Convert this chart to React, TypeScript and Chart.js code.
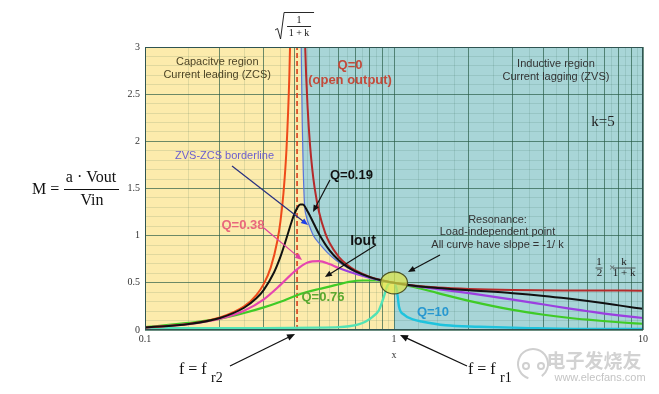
import React, { useEffect, useRef } from 'react';
import { Chart, registerables } from 'chart.js';

Chart.register(...registerables);

// ---------- axis ticks ----------
const xMajorTicks = [0.1, 0.2, 0.3, 0.4, 0.5, 0.6, 0.7, 0.8, 0.9, 1, 2, 3, 4, 5, 6, 7, 8, 9, 10];
const xMinorTicks = [0.15, 0.25, 0.35, 0.45, 0.55, 0.65, 0.75, 0.85, 0.95, 1.25, 1.5, 1.75, 2.5, 3.5, 4.5, 5.5, 6.5, 7.5, 8.5, 9.5];
const xLabelValues = [0.1, 1, 10];
const xLabelTexts = ['0.1', '1', '10'];
const yLabelValues = [0, 0.5, 1, 1.5, 2, 2.5, 3];
const yLabelTexts = ['0', '0.5', '1', '1.5', '2', '2.5', '3'];

// ---------- regions ----------
const bgX = [0.1, 10];
const bgY = [3, 3];
const borderX = [0.424, 0.428, 0.432, 0.437, 0.445, 0.458, 0.475, 0.5, 0.54, 0.585, 0.65, 0.72, 0.8, 0.9, 1];
const borderM = [3, 2.2, 1.7, 1.34, 1.2, 1.1, 1.0, 0.92, 0.82, 0.74, 0.66, 0.6, 0.555, 0.515, 0.5];
const zoneX = [...borderX, 1, 10];
const zoneM = [...borderM, 0, 0];
const fr2 = 0.408; // sqrt(1/(1+k))
const fr2X = [fr2, fr2];
const fr2Y = [0, 3];

// ---------- gain curves ----------
const q0LeftX = [0.1, 0.15, 0.2, 0.25, 0.28, 0.3, 0.32, 0.34, 0.35, 0.36, 0.37, 0.38, 0.385, 0.39];
const q0LeftM = [0.027, 0.065, 0.132, 0.25, 0.37, 0.489, 0.664, 0.943, 1.155, 1.458, 1.916, 2.7, 3.34, 4.35];
const q0RightX = [0.43, 0.44, 0.45, 0.46, 0.47, 0.48, 0.5, 0.53, 0.55, 0.6, 0.65, 0.7, 0.8, 0.9, 1, 1.2, 1.5, 2, 3, 5, 10];
const q0RightM = [4.23, 2.99, 2.355, 1.96, 1.697, 1.506, 1.25, 1.025, 0.928, 0.776, 0.688, 0.631, 0.563, 0.525, 0.5, 0.471, 0.45, 0.435, 0.4245, 0.4195, 0.4174];

const q019X = [0.1, 0.15, 0.2, 0.25, 0.28, 0.3, 0.33, 0.35, 0.37, 0.39, 0.4, 0.41, 0.42, 0.43, 0.45, 0.48, 0.5, 0.55, 0.6, 0.65, 0.7, 0.8, 0.9, 1, 1.2, 1.5, 2, 3, 4, 5, 6, 7, 8, 10];
const q019M = [0.027, 0.064, 0.128, 0.236, 0.336, 0.426, 0.612, 0.777, 0.972, 1.166, 1.243, 1.3, 1.33, 1.33, 1.256, 1.11, 1.018, 0.847, 0.74, 0.67, 0.622, 0.561, 0.524, 0.5, 0.47, 0.446, 0.422, 0.39, 0.361, 0.333, 0.307, 0.283, 0.261, 0.224];

const q038X = [0.1, 0.15, 0.2, 0.25, 0.3, 0.35, 0.4, 0.45, 0.5, 0.55, 0.6, 0.7, 0.8, 0.9, 1, 1.2, 1.5, 2, 3, 4, 5, 6, 7, 8, 10];
const q038M = [0.026, 0.062, 0.119, 0.204, 0.325, 0.478, 0.625, 0.715, 0.73, 0.7, 0.657, 0.596, 0.553, 0.523, 0.5, 0.467, 0.433, 0.39, 0.322, 0.27, 0.229, 0.199, 0.174, 0.155, 0.127];

const q076X = [0.1, 0.15, 0.2, 0.25, 0.3, 0.35, 0.4, 0.45, 0.5, 0.55, 0.6, 0.66, 0.75, 0.85, 0.95, 1, 1.2, 1.5, 2, 3, 4, 5, 6, 7, 8, 10];
const q076M = [0.03, 0.075, 0.12, 0.18, 0.24, 0.3, 0.36, 0.405, 0.435, 0.46, 0.485, 0.51, 0.525, 0.525, 0.51, 0.5, 0.456, 0.391, 0.309, 0.213, 0.162, 0.13, 0.109, 0.094, 0.082, 0.066];

const q10X = [0.1, 0.3, 0.5, 0.6, 0.66, 0.72, 0.77, 0.82, 0.87, 0.91, 0.94, 0.97, 1, 1.027, 1.047, 1.1, 1.2, 1.29, 1.61, 2.2, 3.5, 6, 10];
const q10M = [0.02, 0.02, 0.025, 0.03, 0.04, 0.06, 0.09, 0.14, 0.21, 0.35, 0.47, 0.5, 0.5, 0.42, 0.25, 0.16, 0.11, 0.09, 0.05, 0.035, 0.02, 0.01, 0.01];

// ---------- styles ----------
const YELLOW = '#fcebac';
const BLUE = '#a8d5d7';
const SANS = '"Liberation Sans", Arial, sans-serif';
const SERIF = '"Liberation Serif", "Times New Roman", serif';

const pts = (xs: number[], ys: number[]) => xs.map((x, i) => ({ x, y: ys[i] }));
const near = (a: number, b: number) => Math.abs(a - b) < 1e-9;

function drawText(ctx: CanvasRenderingContext2D, s: string, x: number, y: number, font: string, color: string, align: CanvasTextAlign = 'center') {
  ctx.font = font;
  ctx.fillStyle = color;
  ctx.textAlign = align;
  ctx.textBaseline = 'middle';
  ctx.fillText(s, x, y);
}

function drawArrow(ctx: CanvasRenderingContext2D, x1: number, y1: number, x2: number, y2: number, lineColor: string, headColor: string, w = 1.2, head = 7) {
  const ang = Math.atan2(y2 - y1, x2 - x1);
  const c = Math.cos(ang), s = Math.sin(ang);
  ctx.strokeStyle = lineColor;
  ctx.lineWidth = w;
  ctx.beginPath();
  ctx.moveTo(x1, y1);
  ctx.lineTo(x2 - c * head * 0.7, y2 - s * head * 0.7);
  ctx.stroke();
  ctx.fillStyle = headColor;
  ctx.beginPath();
  ctx.moveTo(x2, y2);
  ctx.lineTo(x2 - head * c + head * 0.42 * s, y2 - head * s - head * 0.42 * c);
  ctx.lineTo(x2 - head * c - head * 0.42 * s, y2 - head * s + head * 0.42 * c);
  ctx.closePath();
  ctx.fill();
}

const annotations = {
  id: 'annotations',
  afterDraw(chart: any) {
    const { ctx, chartArea: a } = chart;
    const xs = chart.scales.x, ys = chart.scales.y;
    const X = (v: number) => xs.getPixelForValue(v);
    const Y = (v: number) => ys.getPixelForValue(v);
    ctx.save();

    // plot frame
    ctx.strokeStyle = '#2f5452';
    ctx.lineWidth = 1;
    ctx.strokeRect(a.left + 0.5, a.top + 0.5, a.right - a.left - 1, a.bottom - a.top - 1);

    // resonance point ellipse
    ctx.beginPath();
    ctx.ellipse(X(1), Y(0.5), 13.5, 11, 0, 0, Math.PI * 2);
    ctx.fillStyle = 'rgba(222, 228, 72, 0.72)';
    ctx.fill();
    ctx.strokeStyle = '#4a5226';
    ctx.lineWidth = 1.2;
    ctx.stroke();

    // region texts
    const f11 = `11px ${SANS}`;
    drawText(ctx, 'Capacitve region', X(0.195), Y(2.84), f11, '#4d4526');
    drawText(ctx, 'Current leading (ZCS)', X(0.195), Y(2.70), f11, '#4d4526');
    drawText(ctx, 'Inductive region', X(4.47), Y(2.82), f11, '#333333');
    drawText(ctx, 'Current lagging (ZVS)', X(4.47), Y(2.68), f11, '#333333');
    drawText(ctx, 'Q=0', X(0.666), Y(2.81), `bold 13px ${SANS}`, '#c34a3a');
    drawText(ctx, '(open output)', X(0.666), Y(2.65), `bold 13px ${SANS}`, '#c34a3a');
    drawText(ctx, 'k=5', X(6.91), Y(2.205), `15px ${SERIF}`, '#222222');

    // borderline label + arrow
    drawText(ctx, 'ZVS-ZCS borderline', X(0.2086), Y(1.845), f11, '#6b5fcf');
    drawArrow(ctx, X(0.2236), Y(1.739), X(0.4515), Y(1.113), '#283080', '#2040e8');

    // Q labels
    drawText(ctx, 'Q=0.19', X(0.553), Y(1.643), `bold 13px ${SANS}`, '#111111', 'left');
    drawArrow(ctx, X(0.553), Y(1.59), X(0.4728), Y(1.251), '#111111', '#111111');
    drawText(ctx, 'Q=0.38', X(0.2474), Y(1.113), `bold 13px ${SANS}`, '#e8687c');
    drawArrow(ctx, X(0.3005), Y(1.081), X(0.4271), Y(0.742), '#e040a0', '#e040a0');
    drawText(ctx, 'Iout', X(0.7507), Y(0.9435), `bold 14px ${SANS}`, '#111111');
    drawArrow(ctx, X(0.8467), Y(0.901), X(0.528), Y(0.562), '#111111', '#111111');
    drawText(ctx, 'Q=0.76', X(0.5187), Y(0.35), `bold 13px ${SANS}`, '#5aa830');
    drawText(ctx, 'Q=10', X(1.434), Y(0.191), `bold 13px ${SANS}`, '#2898d0');

    // resonance note
    drawText(ctx, 'Resonance:', X(2.604), Y(1.166), f11, '#333333');
    drawText(ctx, 'Load-independent point', X(2.604), Y(1.034), f11, '#333333');
    drawText(ctx, 'All curve have slope = -1/ k', X(2.604), Y(0.901), f11, '#333333');
    drawArrow(ctx, X(1.53), Y(0.795), X(1.138), Y(0.615), '#111111', '#111111');

    // 1/2 x k/(1+k)
    const fx = X(7.51), fy = Y(0.657);
    const f10 = `11px ${SERIF}`;
    drawText(ctx, '1', fx - 13, fy - 6, f10, '#222');
    drawText(ctx, '2', fx - 12.5, fy + 5.5, f10, '#222');
    drawText(ctx, '\u00d7', fx, fy, f10, '#555');
    drawText(ctx, 'k', fx + 12, fy - 6, f10, '#222');
    drawText(ctx, '1 + k', fx + 12, fy + 5.5, f10, '#222');
    ctx.strokeStyle = '#333';
    ctx.lineWidth = 0.8;
    ctx.beginPath();
    ctx.moveTo(fx - 16.5, fy); ctx.lineTo(fx - 9.5, fy);
    ctx.moveTo(fx + 1, fy); ctx.lineTo(fx + 23.5, fy);
    ctx.stroke();

    // sqrt(1/(1+k)) above chart
    const sx = X(fr2) + 2;
    drawText(ctx, '1', sx, 20.5, `10px ${SERIF}`, '#111');
    drawText(ctx, '1 + k', sx, 33, `10px ${SERIF}`, '#111');
    ctx.strokeStyle = '#111';
    ctx.lineWidth = 0.9;
    ctx.beginPath();
    ctx.moveTo(sx - 12, 26.5); ctx.lineTo(sx + 12, 26.5);
    ctx.stroke();
    ctx.beginPath();
    ctx.moveTo(sx - 24, 30); ctx.lineTo(sx - 21.5, 28.5); ctx.lineTo(sx - 18.5, 39); ctx.lineTo(sx - 15, 12.5); ctx.lineTo(sx + 15, 12.5);
    ctx.stroke();

    // M = a·Vout / Vin
    drawText(ctx, 'M =', 32, 190, `16px ${SERIF}`, '#111', 'left');
    drawText(ctx, 'a \u00b7 Vout', 91, 178, `16px ${SERIF}`, '#111');
    drawText(ctx, 'Vin', 92, 201, `16px ${SERIF}`, '#111');
    ctx.strokeStyle = '#111';
    ctx.lineWidth = 1;
    ctx.beginPath();
    ctx.moveTo(64, 189.5); ctx.lineTo(119, 189.5);
    ctx.stroke();

    // f = f_r2 and f = f_r1
    drawText(ctx, 'f = f', 179, 370, `16px ${SERIF}`, '#111', 'left');
    drawText(ctx, 'r2', 211, 378, `14px ${SERIF}`, '#111', 'left');
    drawArrow(ctx, 230, 366, X(fr2) - 2, a.bottom + 4, '#111111', '#111111', 1.3, 8);
    drawText(ctx, 'f = f', 468, 370, `16px ${SERIF}`, '#111', 'left');
    drawText(ctx, 'r1', 500, 378, `14px ${SERIF}`, '#111', 'left');
    drawArrow(ctx, 467, 366, X(1) + 6, a.bottom + 5, '#111111', '#111111', 1.3, 8);

    // watermark
    ctx.strokeStyle = '#cfcfcf';
    ctx.lineWidth = 2;
    ctx.beginPath();
    ctx.arc(533, 364, 15, Math.PI * 0.6, Math.PI * 2.3);
    ctx.stroke();
    ctx.beginPath(); ctx.arc(526, 366, 3, 0, Math.PI * 2); ctx.stroke();
    ctx.beginPath(); ctx.arc(541, 366, 3, 0, Math.PI * 2); ctx.stroke();
    drawText(ctx, '电子发烧友', 594, 361, `bold 19px "Noto Sans CJK SC", sans-serif`, '#d2d2d2');
    drawText(ctx, 'www.elecfans.com', 600, 378, `11px ${SANS}`, '#c4c4c4');

    ctx.restore();
  },
};

export default function App() {
  const ref = useRef<HTMLCanvasElement>(null);
  useEffect(() => {
    const canvas = ref.current;
    if (!canvas) return;
    Chart.defaults.font.family = SANS;
    const majorGrid = 'rgba(40, 90, 70, 0.68)';
    const minorGrid = 'rgba(40, 90, 70, 0.13)';
    const chart = new Chart(canvas, {
      type: 'line',
      data: {
        datasets: [
          { label: 'capacitive region', data: pts(bgX, bgY), fill: 'start', backgroundColor: YELLOW, borderColor: 'transparent', borderWidth: 0, order: 100, tension: 0, cubicInterpolationMode: 'default' },
          { label: 'inductive region', data: pts(zoneX, zoneM), fill: 'end', backgroundColor: BLUE, borderColor: 'transparent', borderWidth: 0, order: 99, tension: 0, cubicInterpolationMode: 'default' },
          { label: 'fr2', data: pts(fr2X, fr2Y), borderColor: '#d8401c', borderWidth: 1.6, borderDash: [5, 3], fill: false, order: 8, tension: 0, cubicInterpolationMode: 'default' },
          { label: 'Q=10', data: pts(q10X, q10M), borderColor: '#52e3b5', borderWidth: 2.4, fill: false, order: 7,
            segment: { borderColor: (c: any) => (c.p0.parsed.x >= 1 ? '#1fc3dd' : '#52e3b5') } },
          { label: 'Q=0.76', data: pts(q076X, q076M), borderColor: '#3fcb26', borderWidth: 2.2, fill: false, order: 6 },
          { label: 'Q=0.38', data: pts(q038X, q038M), borderColor: '#e645b0', borderWidth: 2.2, fill: false, order: 5,
            segment: { borderColor: (c: any) => (c.p0.parsed.x >= 0.58 ? '#9b3fe0' : '#e645b0') } },
          { label: 'borderline', data: pts(borderX, borderM), borderColor: '#5a74d8', borderWidth: 1.2, fill: false, order: 4 },
          { label: 'Q=0 left', data: pts(q0LeftX, q0LeftM), borderColor: '#ee4a1a', borderWidth: 2, fill: false, order: 3 },
          { label: 'Q=0 right', data: pts(q0RightX, q0RightM), borderColor: '#b52a2a', borderWidth: 2, fill: false, order: 2 },
          { label: 'Q=0.19', data: pts(q019X, q019M), borderColor: '#111111', borderWidth: 2, fill: false, order: 1 },
        ],
      },
      options: {
        responsive: false,
        animation: false,
        events: [],
        layout: { padding: { left: 0, right: 16, top: 47, bottom: 0 } },
        elements: { point: { radius: 0 }, line: { cubicInterpolationMode: 'monotone' } },
        plugins: {
          legend: { display: false },
          tooltip: { enabled: false },
          filler: { drawTime: 'beforeDraw' },
        },
        scales: {
          x: {
            type: 'logarithmic',
            min: 0.1,
            max: 10,
            afterBuildTicks: (scale: any) => {
              scale.ticks = [...xMajorTicks, ...xMinorTicks].sort((p, q) => p - q).map((v) => ({ value: v }));
            },
            afterFit: (scale: any) => { scale.height = 64; },
            border: { display: false },
            grid: {
              drawTicks: false,
              color: (c: any) => (xMajorTicks.some((v) => near(v, c.tick?.value)) ? majorGrid : minorGrid),
              lineWidth: 1,
            },
            ticks: {
              autoSkip: false,
              maxRotation: 0,
              padding: 3,
              color: '#333333',
              font: { family: SERIF, size: 10 },
              callback: (value: any) => {
                const i = xLabelValues.findIndex((v) => near(v, Number(value)));
                return i >= 0 ? xLabelTexts[i] : '';
              },
            },
            title: { display: true, text: 'x', color: '#333333', font: { family: SERIF, size: 10 }, padding: { top: 0, bottom: 33 } },
          },
          y: {
            type: 'linear',
            min: 0,
            max: 3,
            afterFit: (scale: any) => { scale.width = 145; },
            border: { display: false },
            grid: {
              drawTicks: false,
              color: (c: any) => {
                const v = c.tick?.value ?? 0;
                return Math.abs(v * 2 - Math.round(v * 2)) < 1e-6 ? majorGrid : minorGrid;
              },
              lineWidth: 1,
            },
            ticks: {
              stepSize: 0.1,
              autoSkip: false,
              padding: 5,
              color: '#333333',
              font: { family: SERIF, size: 10 },
              callback: (value: any) => {
                const i = yLabelValues.findIndex((v) => Math.abs(v - Number(value)) < 1e-6);
                return i >= 0 ? yLabelTexts[i] : '';
              },
            },
          },
        },
      },
      plugins: [annotations],
    } as any);
    return () => chart.destroy();
  }, []);

  return (
    <div style={{ position: 'absolute', left: 0, top: 0, width: 659, height: 394, background: '#ffffff' }}>
      <canvas ref={ref} width={659} height={394} style={{ display: 'block', width: 659, height: 394 }} />
    </div>
  );
}
